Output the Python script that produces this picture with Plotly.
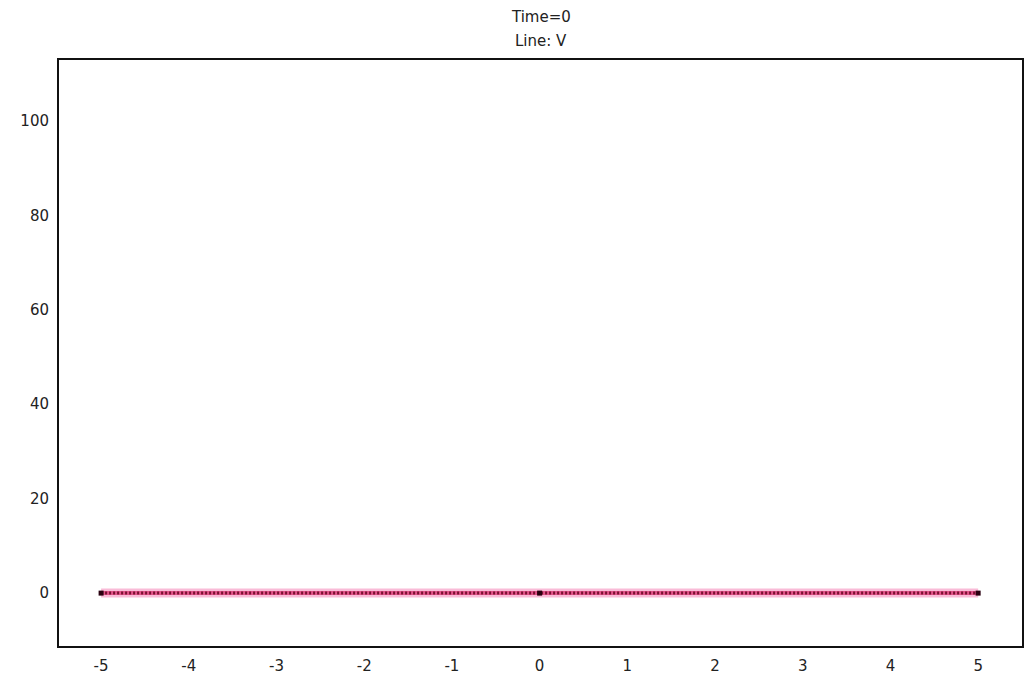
import plotly.graph_objects as go

# Data
x_vals = [-5, 0, 5]
v_vals = [0, 0, 0]
x_ticks = [-5, -4, -3, -2, -1, 0, 1, 2, 3, 4, 5]
x_tick_text = ["-5", "-4", "-3", "-2", "-1", "0", "1", "2", "3", "4", "5"]
y_ticks = [0, 20, 40, 60, 80, 100]
title_lines = ["Time=0", "Line: V"]

fig = go.Figure()
fig.add_trace(go.Scatter(x=x_vals, y=v_vals, mode="lines",
                         line=dict(color="rgba(248,170,205,0.8)", width=9),
                         hoverinfo="skip", showlegend=False))
fig.add_trace(go.Scatter(x=x_vals, y=v_vals, mode="lines",
                         line=dict(color="#e2548a", width=4),
                         hoverinfo="skip", showlegend=False))
fig.add_trace(go.Scatter(x=x_vals, y=v_vals, mode="lines+markers",
                         line=dict(color="#7a1032", width=3, dash="2px,2px"),
                         marker=dict(symbol="square", size=5, color="#2a0010"),
                         showlegend=False))

plot_top, plot_h = 60, 586
for txt, yc in zip(title_lines, [17, 41]):
    fig.add_annotation(text=txt, xref="paper", yref="paper", x=0.5,
                       y=1 + (plot_top - yc) / plot_h, xanchor="center",
                       yanchor="middle", showarrow=False,
                       font=dict(size=15, color="#222"))

fig.update_layout(
    width=1025, height=677,
    margin=dict(l=59, r=1, t=60, b=31),
    paper_bgcolor="white", plot_bgcolor="white",
    font=dict(family="DejaVu Sans", size=15, color="#222"),
    xaxis=dict(range=[-5.48, 5.5], tickvals=x_ticks, ticktext=x_tick_text,
               showgrid=False, zeroline=False, showline=True,
               linecolor="#111", linewidth=2, mirror=True, ticks="",
               ticklabelstandoff=5),
    yaxis=dict(range=[-11.2, 112.9], tickvals=y_ticks, showgrid=False,
               zeroline=False, showline=True, linecolor="#111", linewidth=2,
               mirror=True, ticks="", ticklabelstandoff=5),
)
fig.write_html("out.html")
